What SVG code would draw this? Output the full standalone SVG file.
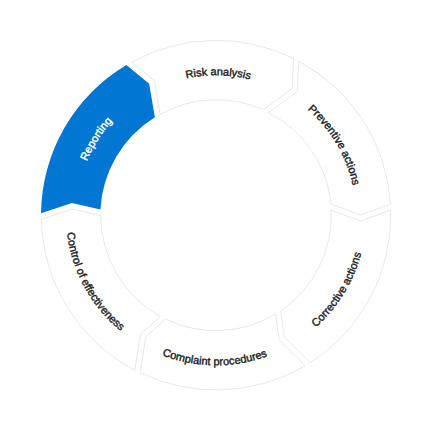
<svg xmlns="http://www.w3.org/2000/svg" width="432" height="432" viewBox="0 0 432 432">
<style>
.seg{fill:#ffffff;stroke:#e8e8e8;stroke-width:1;stroke-linejoin:miter}
.active{fill:#0276d3;stroke:none}
.lbl{font-family:"Liberation Sans",Arial,sans-serif;font-size:11px;fill:#222222;stroke:#222222;stroke-width:0.4;text-anchor:middle}
.lbl.w{fill:#ffffff;stroke:#ffffff}
</style>
<defs>
<path id="pRep" d="M82.48,257.40 A140,140 0 0 1 197.73,76.50"/>
<path id="pRisk" d="M110.18,123.64 A140,140 0 0 1 324.65,127.00"/>
<path id="pPrev" d="M238.62,77.14 A140,140 0 0 1 348.13,261.57"/>
<path id="pCorr" d="M238.17,363.65 A150,150 0 0 0 358.25,167.71"/>
<path id="pComp" d="M100.26,310.71 A150,150 0 0 0 330.06,312.72"/>
<path id="pCtrl" d="M76.34,160.57 A150,150 0 0 0 186.35,362.34"/>
</defs>
<rect width="432" height="432" fill="#ffffff"/>
<g id="corrective-actions">
<path class="seg" d="M390.6,210 A174.8,174.8 0 0 1 310.22,362.67 L284.3,336.81 L280.65,311.09 A115.4,115.4 0 0 0 331.1,210 L360.7,221 Z"/>
<text class="lbl"><textPath href="#pCorr" startOffset="50%">Corrective actions</textPath></text>
</g>
<g id="complaint-procedures">
<path class="seg" d="M305.02,365.65 A174.8,174.8 0 0 1 140.3,372.8 L145.71,337.08 L165.67,319.09 A115.4,115.4 0 0 0 275.45,314.07 L279.1,339.79 Z"/>
<text class="lbl"><textPath href="#pComp" startOffset="50%">Complaint procedures</textPath></text>
</g>
<g id="control-of-effectiveness">
<path class="seg" d="M134.88,370.24 A174.8,174.8 0 0 1 41.39,219.29 L72.39,208.99 L100.82,215.56 A115.4,115.4 0 0 0 160.25,316.53 L140.29,334.52 Z"/>
<text class="lbl"><textPath href="#pCtrl" startOffset="50%">Control of effectiveness</textPath></text>
</g>
<g id="reporting">
<path class="active" d="M41.01,213.31 A174.8,174.8 0 0 1 126.39,65.12 L149.17,83.64 L154.86,117.28 A115.4,115.4 0 0 0 100.44,209.58 L72.01,203.01 Z"/>
<text class="lbl w"><textPath href="#pRep" startOffset="50%">Reporting</textPath></text>
</g>
<g id="risk-analysis">
<path class="seg" d="M131.65,62.24 A174.8,174.8 0 0 1 293.72,58.47 L292.12,88.47 L263.41,109.77 A115.4,115.4 0 0 0 160.12,114.4 L154.43,80.76 Z"/>
<text class="lbl"><textPath href="#pRisk" startOffset="50%">Risk analysis</textPath></text>
</g>
<g id="preventive-actions">
<path class="seg" d="M298.88,61.53 A174.8,174.8 0 0 1 390.6,204 L360.7,215 L331.1,204 A115.4,115.4 0 0 0 268.57,112.83 L297.28,91.53 Z"/>
<text class="lbl"><textPath href="#pPrev" startOffset="50%">Preventive actions</textPath></text>
</g>
</svg>
